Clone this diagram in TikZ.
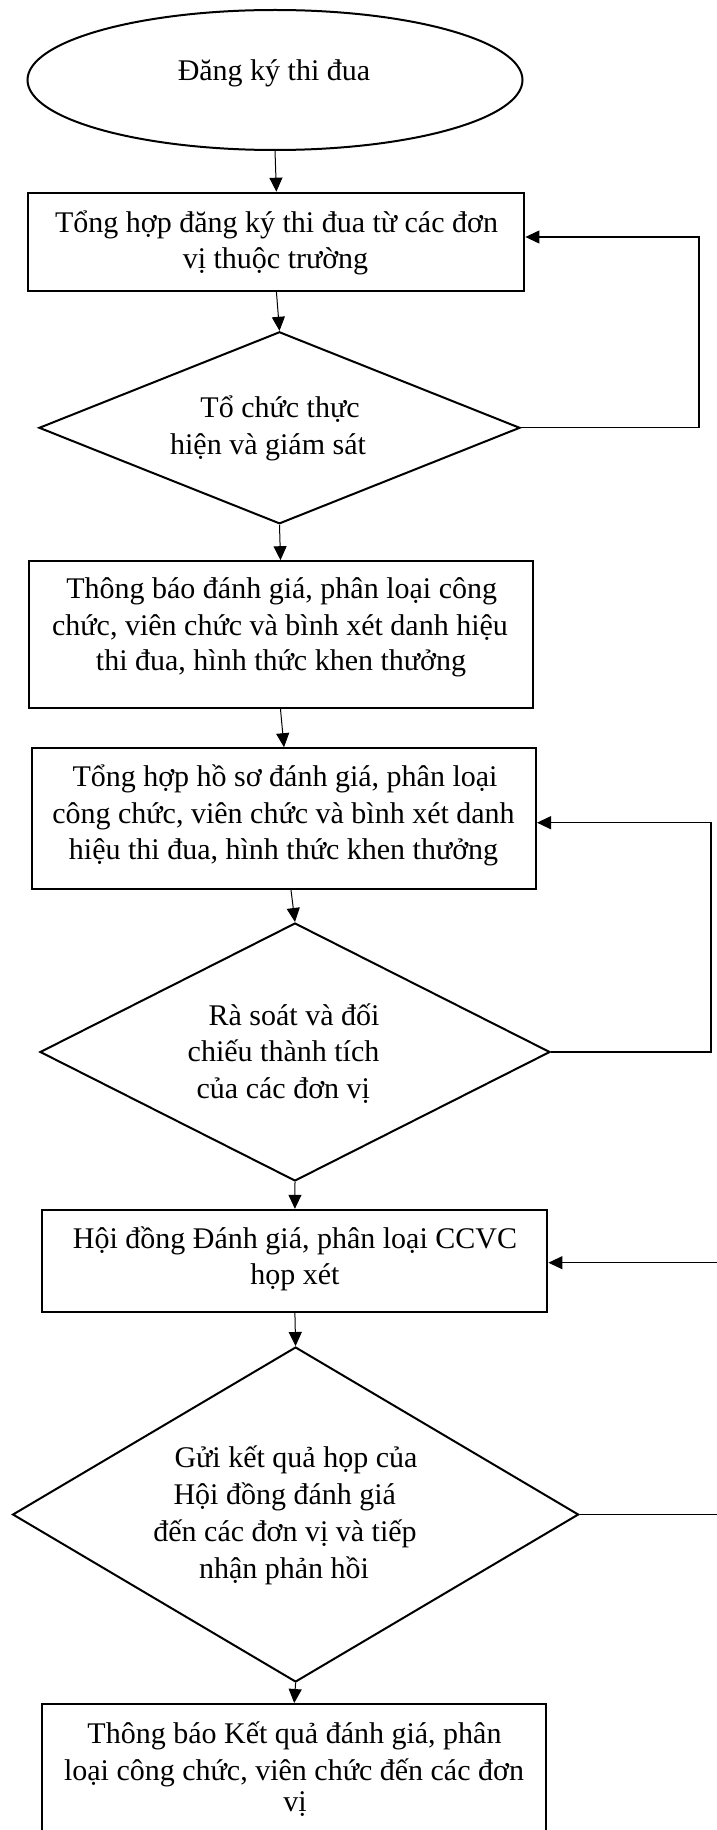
\documentclass[tikz,border=0pt]{standalone}
\usepackage{fontspec}
\setmainfont{Liberation Serif}
\usetikzlibrary{shapes.geometric,arrows.meta}

\tikzset{
  shapeline/.style={draw=black, line width=2pt, inner sep=0pt},
  procbox/.style={shapeline, rectangle},
  decision/.style={shapeline, diamond},
  terminal/.style={shapeline, ellipse},
  lbl/.style={anchor=base, inner sep=0pt, font=\fontsize{30}{36.5}\selectfont},
  flow/.style={line width=1pt, -{Triangle[length=14pt,width=13pt]}},
  fb/.style={line width=1.2pt, -{Triangle[length=14pt,width=13pt]}},
}

\begin{document}
\begin{tikzpicture}[x=1pt,y=-1pt]
\useasboundingbox (0,0) rectangle (717,1830);

% ---- shapes ----
\node[terminal, minimum width=495pt, minimum height=140pt] (reg) at (275,80) {};
\node[procbox, minimum width=496pt, minimum height=98pt] (b1) at (276.4,241.7) {};
\node[decision, minimum width=481pt, minimum height=192pt] (d1) at (279.5,427.8) {};
\node[procbox, minimum width=504pt, minimum height=147pt] (b2) at (280.5,634.7) {};
\node[procbox, minimum width=504pt, minimum height=141pt] (b3) at (284,818.7) {};
\node[decision, minimum width=510pt, minimum height=258pt] (d2) at (295,1052) {};
\node[procbox, minimum width=505pt, minimum height=102pt] (b4) at (294.9,1260.8) {};
\node[decision, minimum width=566pt, minimum height=335pt] (d3) at (295.6,1514.5) {};
\node[procbox, minimum width=504pt, minimum height=196pt] (b5) at (294.2,1802) {};

% ---- texts ----
\node[lbl] (t0) at (274,81) {Đăng ký thi đua};

\node[lbl] (t1a) at (276.5,232) {Tổng hợp đăng ký thi đua từ các đơn};
\node[lbl] (t1b) at (275.5,268) {vị thuộc trường};

\node[lbl] (t2a) at (280,417) {Tổ chức thực};
\node[lbl] (t2b) at (268,454) {hiện và giám sát};

\node[lbl] (t3a) at (281.7,598) {Thông báo đánh giá, phân loại công};
\node[lbl] (t3b) at (280,635) {chức, viên chức và bình xét danh hiệu};
\node[lbl] (t3c) at (281,670.7) {thi đua, hình thức khen thưởng};

\node[lbl] (t4a) at (285,786) {Tổng hợp hồ sơ đánh giá, phân loại};
\node[lbl] (t4b) at (283.5,823) {công chức, viên chức và bình xét danh};
\node[lbl] (t4c) at (283.5,859.3) {hiệu thi đua, hình thức khen thưởng};

\node[lbl] (t5a) at (294,1025) {Rà soát và đối};
\node[lbl] (t5b) at (283.5,1061.7) {chiếu thành tích};
\node[lbl] (t5c) at (283.3,1098.3) {của các đơn vị};

\node[lbl] (t6a) at (295,1248) {Hội đồng Đánh giá, phân loại CCVC};
\node[lbl] (t6b) at (295,1284) {họp xét};

\node[lbl] (t7a) at (296,1467) {Gửi kết quả họp của};
\node[lbl] (t7b) at (284.8,1504) {Hội đồng đánh giá};
\node[lbl] (t7c) at (285,1541) {đến các đơn vị và tiếp};
\node[lbl] (t7d) at (284,1578.3) {nhận phản hồi};

\node[lbl] (t8a) at (294.5,1743) {Thông báo Kết quả đánh giá, phân};
\node[lbl] (t8b) at (294,1780) {loại công chức, viên chức đến các đơn};
\node[lbl] (t8c) at (295,1811.7) {vị};

% ---- main flow ----
\draw[flow] (reg.south) -- (b1.north);
\draw[flow] (b1.south) -- (d1.north);
\draw[flow] (d1.south) -- (b2.north);
\draw[flow] (b2.south) -- (b3.north);
\draw[flow] ([xshift=7pt]b3.south) -- (d2.north);
\draw[flow] (d2.south) -- (b4.north);
\draw[flow] (b4.south) -- (d3.north);
\draw[flow] (d3.south) -- (b5.north);

% ---- feedback loops ----
\coordinate (r1) at (699,237);
\draw[fb] (d1.east) -| (r1) -- (b1.east |- r1);

\coordinate (r2) at (711,822.7);
\draw[fb] (d2.east) -| (r2) -- (b3.east |- r2);

\coordinate (r3) at (740,1262.7);
\draw[fb] (d3.east) -| (r3) -- (b4.east |- r3);
\end{tikzpicture}
\end{document}
